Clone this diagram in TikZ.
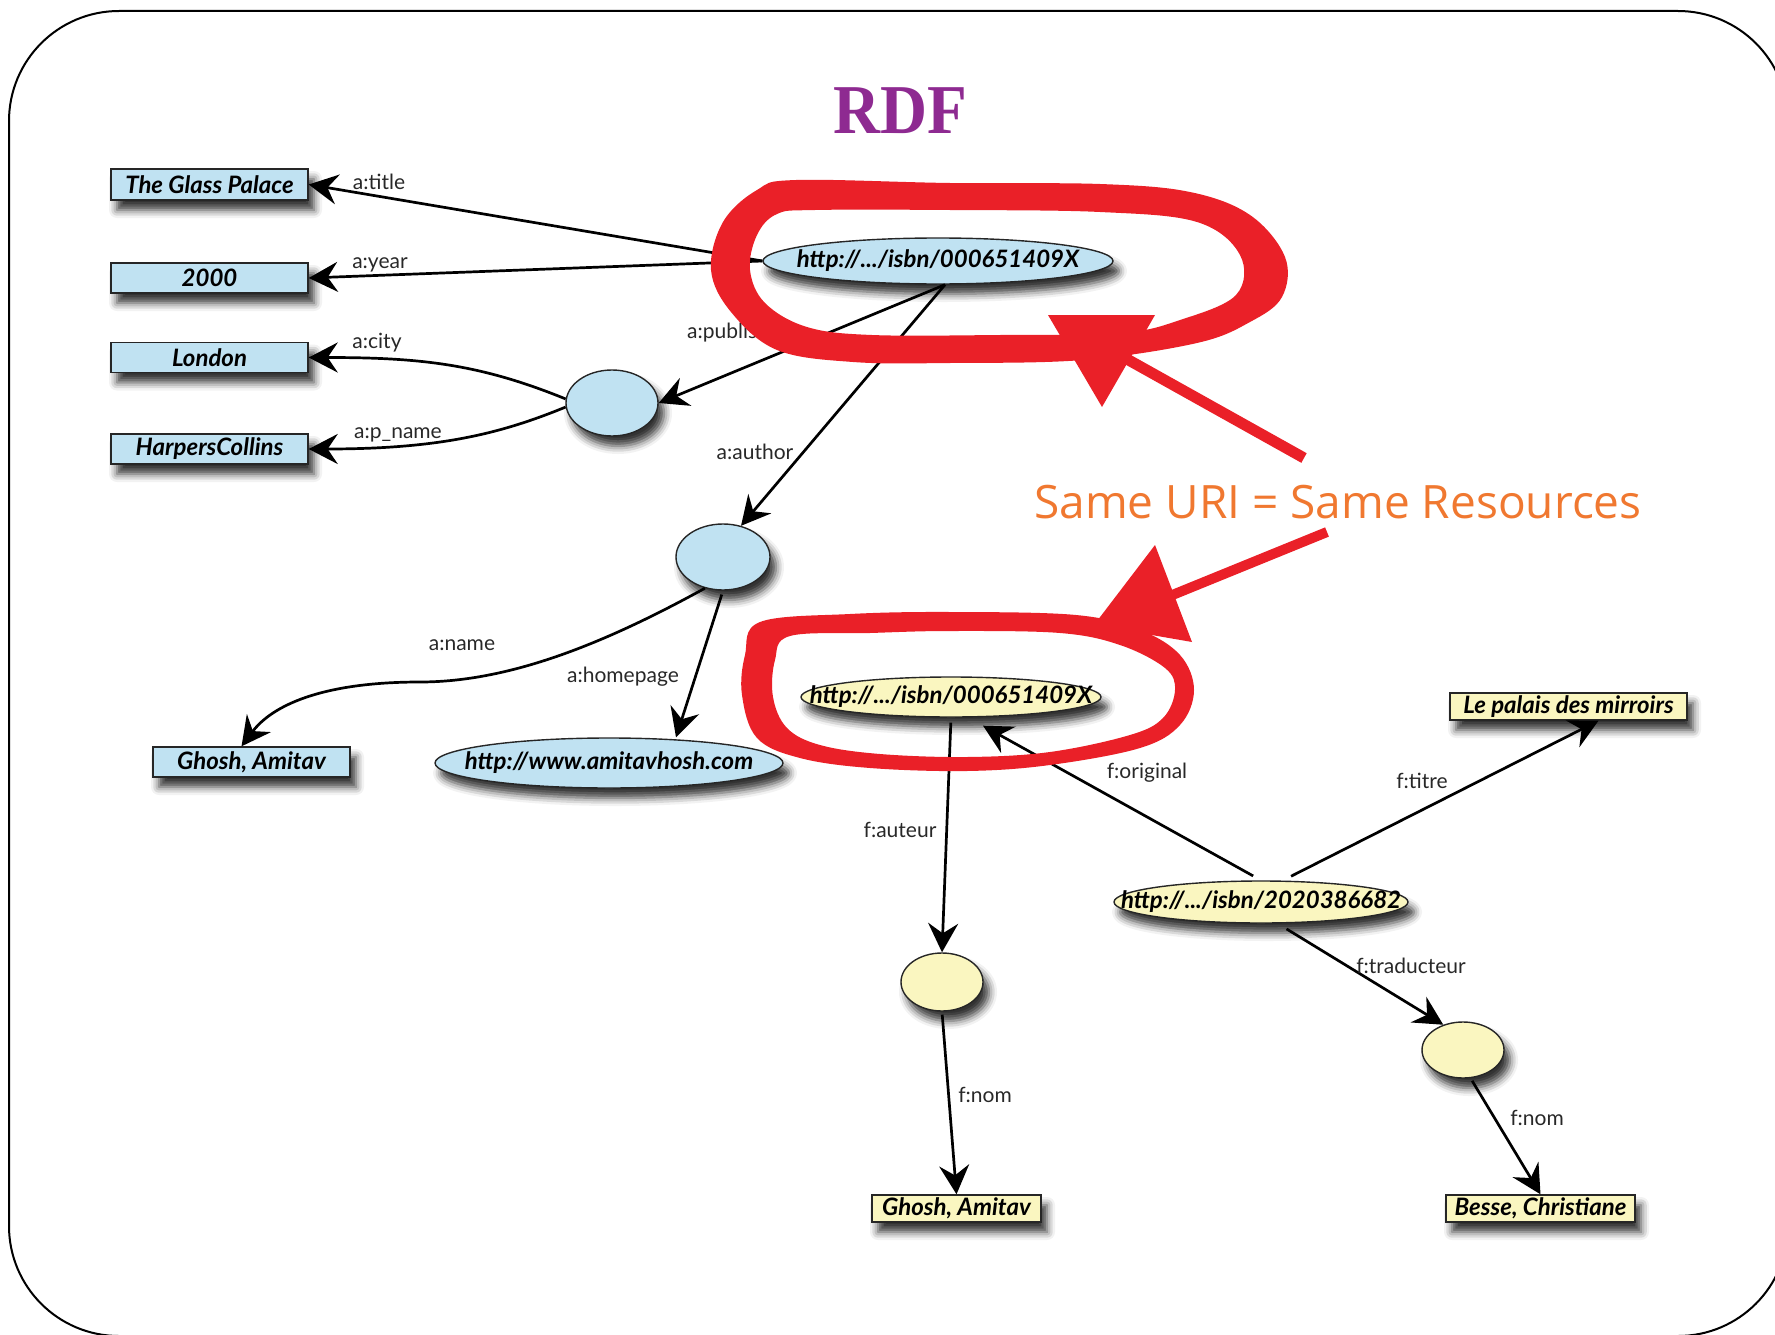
\documentclass[tikz,border=0pt]{standalone}
\usepackage{fontspec}
\setmainfont{Liberation Serif}
\newfontfamily\lblfont{Lato}
\newfontfamily\bxfont{Lato}
\newfontfamily\notefont{Open Sans}
\usetikzlibrary{arrows.meta,shapes.geometric,shadows.blur}
\definecolor{rdfpurple}{RGB}{142,42,145}
\definecolor{nodeblue}{RGB}{192,226,242}
\definecolor{nodeyellow}{RGB}{250,246,192}
\definecolor{annred}{RGB}{234,32,40}
\definecolor{annorange}{RGB}{240,120,48}
\definecolor{lblgrey}{RGB}{40,40,40}
\newcommand{\zw}[1]{\makebox[0pt]{#1}}
\tikzset{
  shad/.style={blur shadow={shadow xshift=6pt, shadow yshift=-10pt, shadow blur radius=8pt, shadow opacity=80}},
  lit/.style={rectangle, draw=black!85, line width=1.4pt, inner sep=0pt, shad,
    font=\bxfont\bfseries\itshape\fontsize{24}{26}\selectfont},
  litB/.style={lit, fill=nodeblue},
  litY/.style={lit, fill=nodeyellow},
  res/.style={ellipse, draw=black!85, line width=1.4pt, inner sep=0pt, shad,
    font=\bxfont\bfseries\itshape\fontsize{24}{26}\selectfont},
  resB/.style={res, fill=nodeblue},
  resY/.style={res, fill=nodeyellow},
  edge/.style={line width=2.7pt, -{Stealth[length=29pt,width=30pt,inset=10pt]}},
  lbl/.style={font=\lblfont\fontsize{21}{24}\selectfont, text=lblgrey, inner sep=0pt},
}
\begin{document}
\begin{tikzpicture}[x=1pt,y=-1pt]
\useasboundingbox (0,0) rectangle (1775,1335);
\draw[line width=2pt, rounded corners=110pt] (9,11) rectangle (1788,1336);

\node[font=\bfseries\fontsize{70}{72}\selectfont, text=rdfpurple, anchor=base, xscale=0.93] (title) at (900,134) {RDF};

% literal boxes
\node[litB, minimum width=197pt, minimum height=31pt] (glass) at (209.5,184.5) {The Glass Palace};
\node[litB, minimum width=197pt, minimum height=30pt] (year) at (209.5,278) {2000};
\node[litB, minimum width=197pt, minimum height=30pt] (london) at (209.5,357.5) {London};
\node[litB, minimum width=197pt, minimum height=30pt] (harper) at (209.5,449) {HarpersCollins};
\node[litB, minimum width=197pt, minimum height=30pt] (ghoshA) at (251.5,762) {Ghosh, Amitav};
\node[litY, minimum width=237pt, minimum height=27pt] (palais) at (1568.5,706.5) {Le palais des mirroirs};
\node[litY, minimum width=169pt, minimum height=27pt] (ghoshF) at (956.5,1208.5) {Ghosh, Amitav};
\node[litY, minimum width=189pt, minimum height=27pt] (besse) at (1540.5,1208.5) {Besse, Christiane};

% resources
\node[resB, minimum width=350pt, minimum height=46pt] (uri1) at (938,261) {\zw{http://.../isbn/000651409X}};
\node[resB, minimum width=92pt, minimum height=66pt] (pubb) at (612,403) {};
\node[resB, minimum width=94pt, minimum height=66pt] (authb) at (723,557) {};
\node[resB, minimum width=348pt, minimum height=50pt] (home) at (609,763) {\zw{http://www.amitavhosh.com}};
\node[resY, minimum width=300pt, minimum height=40pt] (uri2) at (951,697) {\zw{http://.../isbn/000651409X}};
\node[resY, minimum width=294pt, minimum height=42pt] (isbn) at (1261,902) {\zw{http://.../isbn/2020386682}};
\node[resY, minimum width=82pt, minimum height=58pt] (yb1) at (942,982) {};
\node[resY, minimum width=82pt, minimum height=56pt] (yb2) at (1463,1050) {};

% edges
\draw[edge] (uri1.west) -- (glass.east);
\draw[edge] (uri1.west) -- (year.east);
\draw[edge] ([xshift=7pt]uri1.south) -- (pubb.east);
\draw[edge] ([xshift=7pt]uri1.south) -- (authb.60);
\draw[edge] (pubb.175) .. controls +(-86,-35) and +(112,0) .. (london.east);
\draw[edge] (pubb.185) .. controls +(-66,27) and +(130,0) .. (harper.east);
\coordinate (nameMid) at (420,682);
\draw[edge] (authb.240) .. controls +(-100,55) and +(90,0) .. (nameMid)
   .. controls +(-100,0) and +(30,-40) .. ([xshift=-10pt]ghoshA.north);
\draw[edge, shorten <=4pt] (authb.south) -- ([xshift=67pt]home.north);
\draw[edge, shorten <=5pt] (uri2.south) -- (yb1.north);
\draw[edge, shorten <=9pt] (isbn.north) -- ([xshift=32pt,yshift=-8pt]uri2.south);
\draw[edge, shorten <=9pt] ([xshift=22pt]isbn.north) -- ([xshift=30pt]palais.south);
\draw[edge, shorten <=10pt] ([xshift=17pt]isbn.south) -- (yb2.128);
\draw[edge, shorten <=3pt] (yb1.south) -- (ghoshF.north);
\draw[edge, shorten <=3pt] (yb2.-75) -- (besse.north);

% edge labels
\node[lbl] (ltitle) at (379,182) {a:title};
\node[lbl] (lyear) at (380,265) {a:year};
\node[lbl] (lcity) at (377,343) {a:city};
\node[lbl] (lpname) at (398,435) {a:p\_name};
\node[lbl, anchor=west] (lpub) at (687,333) {a:publisher};
\node[lbl] (lauthor) at (755,452) {a:author};
\node[lbl] (lname) at (462,645) {a:name};
\node[lbl] (lhome) at (623,677) {a:homepage};
\node[lbl] (lauteur) at (900,830) {f:auteur};
\node[lbl] (loriginal) at (1147,773) {f:original};
\node[lbl] (ltitre) at (1422,781) {f:titre};
\node[lbl] (ltrad) at (1411,966) {f:traducteur};
\node[lbl] (lnomA) at (985,1095) {f:nom};
\node[lbl] (lnomB) at (1537,1118) {f:nom};

% red annotations
\fill[annred, even odd rule]
  plot[smooth cycle, tension=0.6] coordinates {(796,180) (950,183) (1100,184) (1190,192) (1250,215) (1285,257) (1282,297) (1250,322) (1197,343) (1083,360) (950,363) (853,362) (777,350) (731,312) (711,270) (723,222) (757,190)}
  plot[smooth cycle, tension=0.6] coordinates {(815,210) (950,210) (1100,212) (1197,222) (1240,255) (1236,295) (1180,320) (1121,333) (1000,335) (872,335) (807,327) (765,303) (750,270) (757,235) (777,214)};
\fill[annred, even odd rule]
  plot[smooth cycle, tension=0.6] coordinates {(760,622) (850,614) (950,612) (1076,615) (1140,630) (1180,655) (1194,690) (1180,725) (1140,748) (1050,765) (967,771) (870,768) (800,758) (757,738) (742,695) (745,655)}
  plot[smooth cycle, tension=0.6] coordinates {(790,636) (870,633) (950,631) (1060,633) (1120,645) (1165,668) (1175,690) (1163,718) (1130,735) (1050,752) (967,757) (880,754) (820,745) (787,728) (773,697) (775,660)};
\coordinate (arrA) at (1304,458);
\coordinate (arrB) at (1327,532);
\draw[annred, line width=11pt] (arrA) -- (1125,358);
\fill[annred] (1048,315) -- (1155,315) -- (1102,407) -- cycle;
\draw[annred, line width=10pt] (arrB) -- (1165,598);
\fill[annred] (1094,625) -- (1155,545) -- (1192,642) -- cycle;

\node[font=\notefont\fontsize{46}{50}\selectfont, text=annorange, anchor=base] (note) at (1338,518) {Same URI = Same Resources};
\end{tikzpicture}
\end{document}
